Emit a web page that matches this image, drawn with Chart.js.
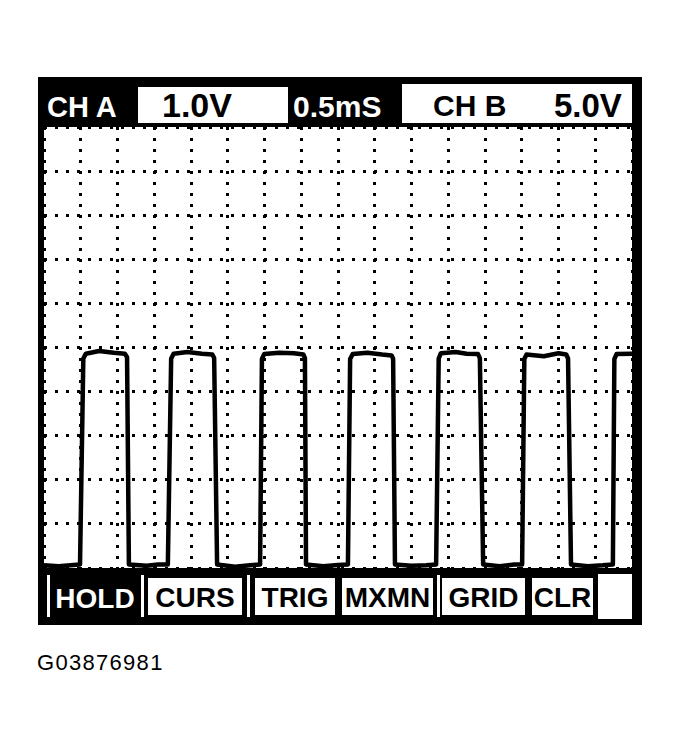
<!DOCTYPE html>
<html>
<head>
<meta charset="utf-8">
<script src="https://cdn.jsdelivr.net/npm/chart.js@4.4.1/dist/chart.umd.min.js"></script>
<style>
  html,body{margin:0;padding:0;background:#fff;}
  body{width:679px;height:746px;position:relative;overflow:hidden;font-family:"Liberation Sans",Arial,sans-serif;}
  .abs{position:absolute;}
  #frame{left:38px;top:77px;width:604px;height:548px;background:#000;}
  #plot{left:44px;top:127px;width:588px;height:441px;background:#fff;}
  .hdr{position:absolute;font-weight:bold;line-height:1;white-space:nowrap;}
  .wbox{position:absolute;background:#fff;}
  .btn{position:absolute;background:#fff;color:#000;font-weight:bold;font-size:28px;line-height:1;text-align:center;}
  .btn span{position:relative;}
  .sep{position:absolute;background:#fff;width:3px;}
  #code{left:37px;top:650px;font-size:22px;letter-spacing:1.3px;color:#000;}
</style>
</head>
<body>
<div id="frame" class="abs"></div>

<!-- header -->
<div class="hdr" style="left:47px;top:93px;font-size:29px;color:#fff;">CH A</div>
<div class="wbox" style="left:138px;top:87px;width:150px;height:36px;"></div>
<div class="hdr" style="left:162px;top:88px;font-size:34px;color:#000;">1.0V</div>
<div class="hdr" style="left:293px;top:92px;font-size:30px;color:#fff;">0.5mS</div>
<div class="wbox" style="left:402px;top:84px;width:230px;height:39px;"></div>
<div class="hdr" style="left:433px;top:91px;font-size:30px;color:#000;">CH B</div>
<div class="hdr" style="left:554px;top:89px;font-size:33px;color:#000;">5.0V</div>

<div id="plot" class="abs"><canvas id="scope" width="588" height="441"></canvas></div>

<!-- soft buttons -->
<div class="sep" style="left:47px;top:575px;height:42px;"></div>
<div class="btn" style="left:51px;top:578px;width:88px;height:38px;background:#000;color:#fff;"><span style="top:7px;">HOLD</span></div>
<div class="sep" style="left:141px;top:575px;height:42px;"></div>
<div class="btn" style="left:148px;top:578px;width:94px;height:37px;"><span style="top:6px;">CURS</span></div>
<div class="sep" style="left:247px;top:575px;height:42px;"></div>
<div class="btn" style="left:255px;top:578px;width:80px;height:37px;"><span style="top:6px;">TRIG</span></div>
<div class="btn" style="left:342px;top:578px;width:91px;height:37px;"><span style="top:6px;">MXMN</span></div>
<div class="sep" style="left:437px;top:575px;height:42px;"></div>
<div class="btn" style="left:442px;top:578px;width:83px;height:37px;"><span style="top:6px;">GRID</span></div>
<div class="btn" style="left:532px;top:578px;width:61px;height:37px;"><span style="top:6px;">CLR</span></div>
<div class="wbox" style="left:598px;top:574px;width:34px;height:45px;"></div>

<div id="code" class="abs">G03876981</div>

<script>
// screen is 16 x 10 divisions
const xDivs = 16;
const yDivs = 10;

// CH B trace in divisions
const traceTime = [
  0, 0.4, 0.8, 0.98, 1.07, 1.14, 1.5, 1.9, 2.2, 2.26, 2.31,
  2.8, 3.1, 3.37, 3.46, 3.53, 3.9, 4.3, 4.58, 4.63, 4.71,
  5.2, 5.6, 5.88, 5.93, 5.99, 6.4, 6.8, 7.06, 7.10, 7.13,
  7.6, 8.0, 8.27, 8.33, 8.40, 8.8, 9.2, 9.46, 9.50, 9.55,
  10.0, 10.4, 10.67, 10.74, 10.80, 11.2, 11.5, 11.81, 11.86, 11.95,
  12.4, 12.8, 13.01, 13.07, 13.13, 13.6, 14.0, 14.21, 14.26, 14.34,
  14.8, 15.2, 15.48, 15.52, 15.58, 16
];
const traceVolts = [
  0.06, 0.04, 0.07, 0.08, 4.75, 4.86, 4.92, 4.88, 4.86, 4.78, 0.08,
  0.05, 0.08, 0.08, 4.75, 4.86, 4.90, 4.86, 4.84, 4.76, 0.08,
  0.03, 0.06, 0.08, 4.74, 4.85, 4.88, 4.87, 4.84, 4.76, 0.08,
  0.04, 0.07, 0.08, 4.74, 4.85, 4.88, 4.84, 4.82, 4.74, 0.08,
  0.05, 0.06, 0.08, 4.75, 4.87, 4.90, 4.86, 4.85, 4.76, 0.08,
  0.04, 0.08, 0.08, 4.74, 4.84, 4.80, 4.87, 4.84, 4.75, 0.08,
  0.04, 0.06, 0.08, 4.74, 4.85, 4.86
];

const points = traceTime.map((t, i) => ({x: t, y: traceVolts[i]}));

function dottedAxis(max){
  return {
    type: 'linear', min: 0, max: max,
    ticks: {display: false, stepSize: 1},
    grid: {color: '#000', lineWidth: 3, drawTicks: false},
    border: {display: false, dash: [3, 8]}
  };
}

new Chart(document.getElementById('scope'), {
  type: 'scatter',
  data: {
    datasets: [{
      data: points,
      showLine: true,
      borderColor: '#000',
      borderWidth: 4.5,
      borderJoinStyle: 'round',
      pointRadius: 0,
      tension: 0
    }]
  },
  options: {
    responsive: false,
    animation: false,
    devicePixelRatio: 1,
    layout: {padding: 0},
    plugins: {legend: {display: false}, tooltip: {enabled: false}},
    scales: {x: dottedAxis(xDivs), y: dottedAxis(yDivs)}
  }
});
</script>
</body>
</html>
